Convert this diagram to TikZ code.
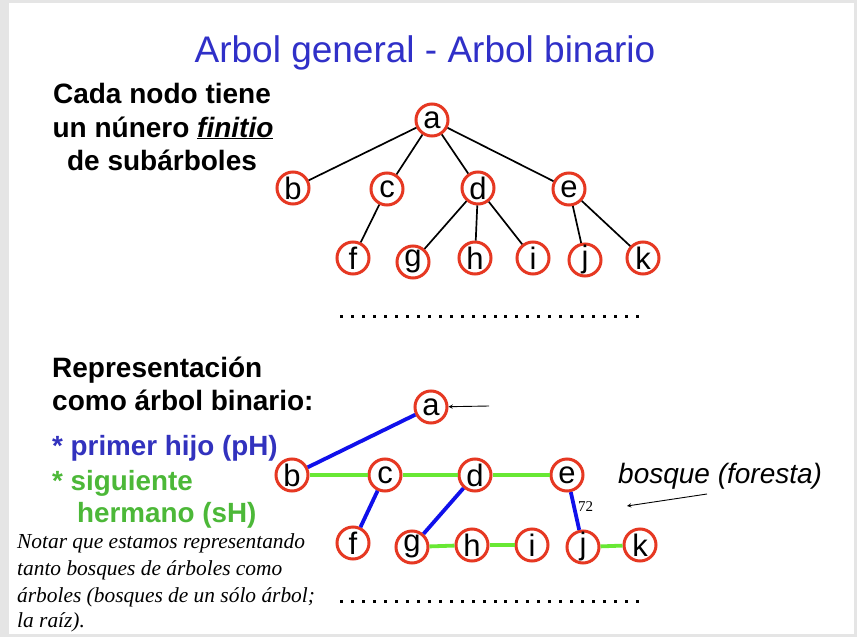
\documentclass[tikz,border=0pt]{standalone}
\usepackage{fontspec}
\setmainfont{Liberation Sans}
\newfontfamily\notafont{Liberation Serif}
\definecolor{rojo}{RGB}{230,56,34}
\definecolor{azul}{RGB}{16,16,235}
\definecolor{verde}{RGB}{104,232,52}
\definecolor{titulo}{RGB}{48,48,200}
\definecolor{textoazul}{RGB}{50,50,190}
\definecolor{textoverde}{RGB}{76,184,56}
% letter lowered so that its ink sits in the middle of the circle
\newcommand{\letra}[2]{\raisebox{-#2em}{#1}}
\begin{document}
\begin{tikzpicture}[x=1pt,y=-1pt]
    \tikzstyle{nodo}=[circle,draw=rojo,line width=3pt,fill=white,minimum size=32pt,
      inner sep=0pt,text height=0pt,text depth=0pt,font=\fontsize{31}{31}\selectfont]
    \tikzstyle{rama}=[draw=black,line width=1.7pt]
    \tikzstyle{ph}=[draw=azul,line width=3.8pt]
    \tikzstyle{sh}=[draw=verde,line width=3.8pt]
    \tikzstyle{texto}=[inner sep=0pt,anchor=base west]
    \useasboundingbox (0,0) rectangle (857,637);
    \fill[black!10] (0,0) rectangle (857,637);
    \fill[white] (9,3) rectangle (854,634);

    % title and texts
    \node[inner sep=0pt,anchor=base,text=titulo,font=\fontsize{37}{44}\selectfont] (titulo) at (425,62) {Arbol general - Arbol binario};
    \node[inner sep=0pt,anchor=base,font=\fontsize{28}{33}\selectfont\bfseries] (cada-1) at (162,103) {Cada nodo tiene};
    \node[inner sep=0pt,anchor=base,font=\fontsize{28}{33}\selectfont\bfseries] (cada-2) at (163,137) {un núnero \underline{\textit{finitio}}};
    \node[inner sep=0pt,anchor=base,font=\fontsize{28}{33}\selectfont\bfseries] (cada-3) at (162,170) {de subárboles};
    \node[texto,font=\fontsize{28}{33}\selectfont\bfseries] (repr-1) at (52,377) {Representación};
    \node[texto,font=\fontsize{28}{33}\selectfont\bfseries] (repr-2) at (52,410) {como árbol binario:};
    \node[texto,text=textoazul,font=\fontsize{27.8}{32}\selectfont\bfseries] (pH) at (52,455) {* primer hijo (pH)};
    \node[texto,text=textoverde,font=\fontsize{27.8}{32}\selectfont\bfseries] (sH-1) at (52,490) {* siguiente};
    \node[texto,text=textoverde,font=\fontsize{27.8}{32}\selectfont\bfseries] (sH-2) at (77,522) {hermano (sH)};
    \node[texto,font=\fontsize{28}{32}\selectfont\itshape] (bosque) at (618,483) {bosque (foresta)};
    \node[texto,font=\notafont\fontsize{15}{15}\selectfont] (num) at (578,511) {72};

    % note lines
    \foreach \y/\t in {548/Notar que estamos representando,575/tanto bosques de árboles como,
      602/árboles (bosques de un sólo árbol;,627/la raíz).}
    \node[texto,font=\notafont\fontsize{21.4}{27}\selectfont\itshape] (nota-\y) at (17,\y) {\t};

    % general tree nodes
    \foreach \n/\x/\y/\o in {a/432/120/.265,b/293/188/.36,c/387/189/.265,d/478/188/.36,e/569/189/.265,
      f/353/258/.36,g/413/262/.16,h/475/258/.36,i/533/258/.36,j/585/260/.25,k/643/258/.36}
    \node[nodo] (T-\n) at (\x,\y) {\letra{\n}{\o}};

    % binary tree nodes
    \foreach \n/\x/\y/\o in {a/431/407/.265,b/292/475/.36,c/385/475/.265,d/475/475/.36,e/567/475/.265,
      f/353/543/.36,g/412/547/.16,h/472/545/.36,i/532/545/.36,j/583/547/.25,k/640/545/.36}
    \node[nodo] (B-\n) at (\x,\y) {\letra{\n}{\o}};

    % edges of the general tree
    \foreach \src/\dst in {a/b,a/c,a/d,a/e,c/f,d/g,d/h,d/i,e/j,e/k}
    \path[rama] (T-\src) -- (T-\dst);

    % first child (blue) and next sibling (green)
    \foreach \src/\dst in {a/b,c/f,d/g,e/j}
    \path[ph] (B-\src) -- (B-\dst);
    \foreach \src/\dst in {b/c,c/d,d/e,g/h,h/i,j/k}
    \path[sh] (B-\src) -- (B-\dst);

    % arrows
    \coordinate (raiz) at (489,406);
    \coordinate (foresta) at (707,494);
    \coordinate (flecha) at (627,506);
    \draw[-stealth,line width=0.9pt] (raiz) -- (B-a);
    \draw[-stealth,line width=0.9pt] (foresta) -- (flecha);

    % dotted rows
    \foreach \i in {0,...,27} {
      \fill (341.7+\i*10.95-1.5,314.5) rectangle +(3,3);
      \fill (341.7+\i*10.95-1.5,599.5) rectangle +(3,3);
    }
  \end{tikzpicture}
\end{document}
